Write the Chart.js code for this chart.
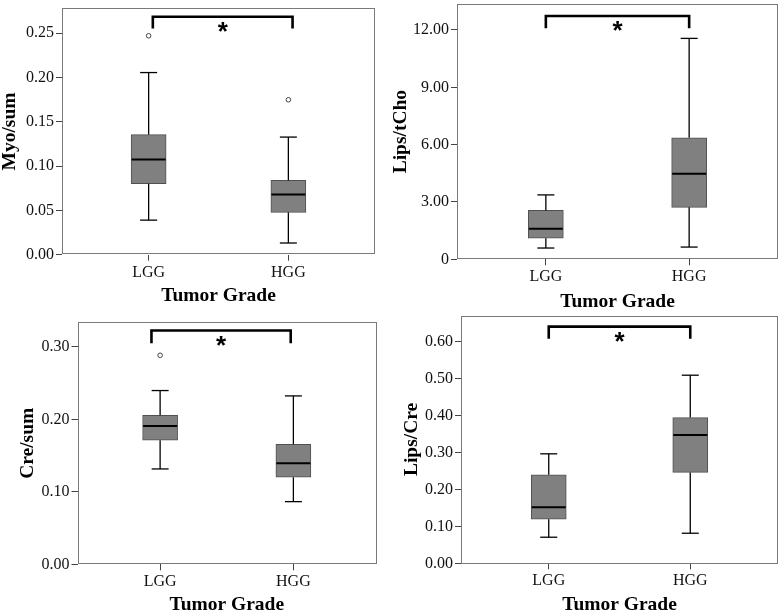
<!DOCTYPE html>
<html>
<head>
<meta charset="utf-8">
<script src="https://cdn.jsdelivr.net/npm/chart.js@4.4.1/dist/chart.umd.min.js"></script>
<style>
    html, body { margin: 0; padding: 0; background: #ffffff; }
    body { width: 782px; height: 614px; position: relative; overflow: hidden; }
    canvas { position: absolute; }
</style>
</head>
<body>
<canvas id="myoChart"></canvas>
<canvas id="lipsChoChart"></canvas>
<canvas id="creChart"></canvas>
<canvas id="lipsCreChart"></canvas>
<script>
const grades = ["LGG", "HGG"];

// per grade: [lower whisker, Q1, median, Q3, upper whisker]
const myoSum = [[0.039, 0.080, 0.1075, 0.1355, 0.2055], [0.0132, 0.0478, 0.068, 0.0838, 0.1327]];
const myoOutliers = [[0.247], [0.1748]];
const myoTicks = ["0.00", "0.05", "0.10", "0.15", "0.20", "0.25"];

const lipsCho = [[0.59, 1.10, 1.60, 2.56, 3.37], [0.64, 2.72, 4.48, 6.36, 11.56]];
const lipsChoOutliers = [[], []];
const lipsChoTicks = ["0", "3.00", "6.00", "9.00", "12.00"];

const creSum = [[0.1316, 0.1712, 0.191, 0.2057, 0.2398], [0.0865, 0.1201, 0.1394, 0.1657, 0.2324]];
const creOutliers = [[0.2885], []];
const creTicks = ["0.00", "0.10", "0.20", "0.30"];

const lipsCre = [[0.0705, 0.119, 0.1518, 0.2394, 0.296], [0.0813, 0.2457, 0.347, 0.394, 0.5086]];
const lipsCreOutliers = [[], []];
const lipsCreTicks = ["0.00", "0.10", "0.20", "0.30", "0.40", "0.50", "0.60"];

const SERIF = "'Liberation Serif', 'Times New Roman', serif";
const TITLE_SIZE = 19.5;
const tickFont = { family: SERIF, size: 16 };
const titleFont = { family: SERIF, size: TITLE_SIZE, weight: "bold", lineHeight: 1 };

// canvas: [left, top, w, h]; plot: [left, top, right, bottom] in page pixels
const panels = [
    {
        id: "myoChart", title: "Myo/sum", stats: myoSum, outliers: myoOutliers, ticks: myoTicks, yMax: 0.278,
        canvas: [0, 0, 391, 307], plot: [62, 8.3, 375, 254.7], yTitleX: 9.5, xTitleY: 295.5,
        bracket: { x: [1.03, 2.03], top: 0.2684, end: 0.2553 },
    },
    {
        id: "lipsChoChart", title: "Lips/tCho", stats: lipsCho, outliers: lipsChoOutliers, ticks: lipsChoTicks, yMax: 13.36,
        canvas: [391, 0, 391, 314], plot: [457, 4, 778, 259.3], yTitleX: 400.5, xTitleY: 302,
        bracket: { x: [1, 2], top: 12.73, end: 12.09 },
    },
    {
        id: "creChart", title: "Cre/sum", stats: creSum, outliers: creOutliers, ticks: creTicks, yMax: 0.334,
        canvas: [0, 307, 391, 307], plot: [77.5, 322.3, 376, 564.3], yTitleX: 28.3, xTitleY: 604.5,
        bracket: { x: [0.935, 1.98], top: 0.3226, end: 0.305 },
    },
    {
        id: "lipsCreChart", title: "Lips/Cre", stats: lipsCre, outliers: lipsCreOutliers, ticks: lipsCreTicks, yMax: 0.67,
        canvas: [391, 307, 391, 307], plot: [461, 315.5, 778, 563.3], yTitleX: 412, xTitleY: 604.5,
        bracket: { x: [1, 2], top: 0.64, end: 0.607 },
    },
];

function line(ctx, x1, y1, x2, y2) {
    ctx.beginPath();
    ctx.moveTo(x1, y1);
    ctx.lineTo(x2, y2);
    ctx.stroke();
}

// whiskers, caps, medians, frame and the significance bracket
function boxPlugin(p) {
    return {
        id: "boxWhiskers",
        afterDatasetsDraw(chart) {
            const { ctx, chartArea, scales: { x, y } } = chart;
            ctx.save();
            ctx.strokeStyle = "#7a7a7a";
            ctx.lineWidth = 1;
            ctx.strokeRect(Math.round(chartArea.left) + 0.5, Math.round(chartArea.top) + 0.5,
                Math.round(chartArea.width) - 1, Math.round(chartArea.height) - 1);

            p.stats.forEach((s, i) => {
                const cx = x.getPixelForValue(i + 1);
                const [lo, q1, med, q3, hi] = s.map((v) => y.getPixelForValue(v));
                ctx.strokeStyle = "#000";
                ctx.lineWidth = 1.3;
                line(ctx, cx, q3, cx, hi);
                line(ctx, cx, q1, cx, lo);
                line(ctx, cx - 8.5, hi, cx + 8.5, hi);
                line(ctx, cx - 8.5, lo, cx + 8.5, lo);
                ctx.lineWidth = 2;
                line(ctx, cx - 17, med, cx + 17, med);
            });

            const bx1 = x.getPixelForValue(p.bracket.x[0]);
            const bx2 = x.getPixelForValue(p.bracket.x[1]);
            const top = y.getPixelForValue(p.bracket.top);
            const end = y.getPixelForValue(p.bracket.end);
            ctx.strokeStyle = "#000";
            ctx.lineWidth = 2.6;
            ctx.lineJoin = "miter";
            ctx.beginPath();
            ctx.moveTo(bx1, end);
            ctx.lineTo(bx1, top);
            ctx.lineTo(bx2, top);
            ctx.lineTo(bx2, end);
            ctx.stroke();

            ctx.fillStyle = "#000";
            ctx.font = "bold 26px 'Liberation Sans', Arial, sans-serif";
            ctx.textAlign = "center";
            ctx.textBaseline = "middle";
            ctx.fillText("*", (bx1 + bx2) / 2, top + 16);
            ctx.restore();
        },
    };
}

function renderPanel(p) {
    const [cl, ct, cw, ch] = p.canvas;
    const [pl, pt, pr, pb] = p.plot;
    const canvas = document.getElementById(p.id);
    canvas.width = cw;
    canvas.height = ch;
    canvas.style.left = cl + "px";
    canvas.style.top = ct + "px";

    const padLeft = p.yTitleX - cl - TITLE_SIZE / 2;
    const yWidth = pl - cl - padLeft;
    const xHeight = ct + ch - pb;
    const xTitlePad = ct + ch - p.xTitleY - TITLE_SIZE / 2;
    const tickValues = p.ticks.map(Number);

    new Chart(canvas, {
        type: "bar",
        data: {
            datasets: [
                {
                    type: "bar",
                    data: grades.map((g, i) => ({ x: i + 1, y: [p.stats[i][1], p.stats[i][3]] })),
                    backgroundColor: "#808080",
                    borderColor: "#505050",
                    borderWidth: 1,
                    borderSkipped: false,
                    barThickness: 35,
                },
                {
                    type: "scatter",
                    data: p.outliers.flatMap((vals, i) => vals.map((v) => ({ x: i + 1, y: v }))),
                    pointRadius: 2.3,
                    pointBackgroundColor: "#ffffff",
                    pointBorderColor: "#444",
                    pointBorderWidth: 1,
                },
            ],
        },
        options: {
            responsive: false,
            animation: false,
            events: [],
            layout: { padding: { left: padLeft, top: pt - ct, right: cl + cw - pr, bottom: 0 } },
            plugins: { legend: { display: false }, tooltip: { enabled: false } },
            scales: {
                x: {
                    type: "linear",
                    min: 0.38,
                    max: 2.62,
                    offset: false,
                    afterBuildTicks: (s) => { s.ticks = grades.map((g, i) => ({ value: i + 1 })); },
                    afterFit: (s) => { s.height = xHeight; s.paddingLeft = 0; s.paddingRight = 0; },
                    grid: { drawOnChartArea: false, offset: false, tickLength: 6, color: "#444" },
                    border: { display: false },
                    ticks: { padding: 2, color: "#111", font: tickFont, maxRotation: 0, autoSkip: false,
                        callback: (v, i) => grades[i] },
                    title: { display: true, text: "Tumor Grade", color: "#000", font: titleFont,
                        padding: { top: 0, bottom: xTitlePad } },
                },
                y: {
                    min: 0,
                    max: p.yMax,
                    afterBuildTicks: (s) => { s.ticks = tickValues.map((v) => ({ value: v })); },
                    afterFit: (s) => { s.width = yWidth; s.paddingTop = 0; s.paddingBottom = 0; },
                    grid: { drawOnChartArea: false, tickLength: 6, color: "#444" },
                    border: { display: false },
                    ticks: { padding: 2, color: "#111", font: tickFont, autoSkip: false,
                        callback: (v, i) => p.ticks[i] },
                    title: { display: true, text: p.title, color: "#000", font: titleFont, padding: 0 },
                },
            },
        },
        plugins: [boxPlugin(p)],
    });
}

panels.forEach(renderPanel);
</script>
</body>
</html>
